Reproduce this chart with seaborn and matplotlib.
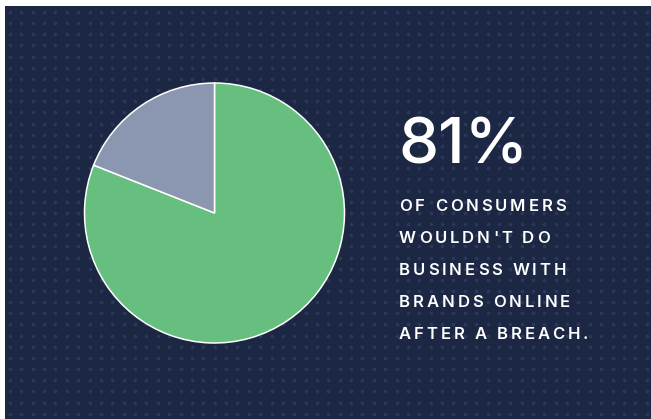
import numpy as np
import matplotlib
matplotlib.use("Agg")
import matplotlib.pyplot as plt
from matplotlib.patches import Rectangle
from matplotlib.font_manager import FontProperties
import seaborn as sns

# ---- data ----
labels = ["Wouldn't do business", "Would do business"]
shares = [81, 19]
headline = "81%"
caption_lines = ["OF CONSUMERS", "WOULDN'T DO", "BUSINESS WITH",
                 "BRANDS ONLINE", "AFTER A BREACH."]

# ---- style ----
sns.set_theme(style="white")
plt.rcParams["font.family"] = ["Inter", "DejaVu Sans"]
BG = "#1b2743"
DOT = "#2b3859"
pie_colors = sns.color_palette(["#66bf7e", "#8b97b0"])

W, H = 651, 419
fig = plt.figure(figsize=(W / 100, H / 100), dpi=100, facecolor="white")
ax = fig.add_axes([0, 0, 1, 1])

def py(y):  # pixel-from-top -> data y
    return H - y

# dark panel
ax.add_patch(Rectangle((5, 0), W - 5, H - 6, facecolor=BG, edgecolor="none", zorder=0))
# dot pattern
gx = np.arange(10, W, 11.37)
gy = np.arange(12, H, 11.16)
XX, YY = np.meshgrid(gx, gy)
ax.scatter(XX.ravel(), py(YY.ravel()), s=7, color=DOT, linewidths=0, zorder=1)

# pie
wedges, _ = ax.pie(shares, colors=pie_colors, startangle=90, counterclock=False,
                   center=(214.5, py(213)), radius=130, frame=True,
                   wedgeprops=dict(edgecolor="white", linewidth=1.1))
for w in wedges:
    w.set_zorder(2)

ax.set_xlim(0, W)
ax.set_ylim(0, H)
ax.set_aspect("auto")
ax.axis("off")

# headline
ax.text(399, py(163), headline, color="white", fontsize=46, weight="medium",
        fontfamily=["Inter", "DejaVu Sans"], ha="left", va="baseline", zorder=3)

# caption with letter spacing
renderer = fig.canvas.get_renderer()
prop = FontProperties(family=["Inter", "DejaVu Sans"], size=12, weight="semibold")

def adv(ch):
    w2, _, _ = renderer.get_text_width_height_descent("HH", prop, ismath=False)
    w3, _, _ = renderer.get_text_width_height_descent("H" + ch + "H", prop, ismath=False)
    return w3 - w2

tracking = 2.9
baselines = [211, 243, 275, 307, 339]
for line, yb in zip(caption_lines, baselines):
    x = 399
    for ch in line:
        if ch != " ":
            ax.text(x, py(yb), ch, color="white", fontproperties=prop,
                    ha="left", va="baseline", zorder=3)
        x += adv(ch) + tracking

fig.savefig("out.png", dpi=100, facecolor="white")
